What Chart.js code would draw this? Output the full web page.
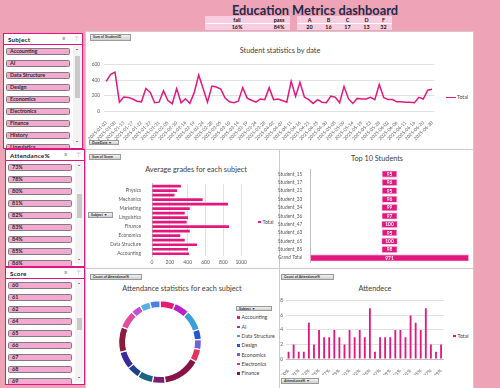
<!DOCTYPE html>
<html><head><meta charset="utf-8">
<script src="https://cdn.jsdelivr.net/npm/chart.js@4.4.1/dist/chart.umd.min.js"></script>
<style>
html,body{margin:0;padding:0;}
body{width:500px;height:388px;background:#eea3b6;position:relative;overflow:hidden;font-family:Lato,"Liberation Sans",sans-serif;}
.a{position:absolute;}
.panel{position:absolute;background:#fff;border:1px solid #d8c4cb;box-sizing:border-box;}
.btn{position:absolute;box-sizing:border-box;border:1px solid #9a9a9a;background:linear-gradient(#f2f2f2,#cfcfcf);font-size:3.6px;font-weight:bold;color:#333;line-height:4px;padding-left:2px;white-space:nowrap;overflow:hidden;}
.ctitle{position:absolute;font-size:7.3px;color:#404040;white-space:nowrap;transform:translateX(-50%);}
.slicer{position:absolute;background:#fff;border:1px solid #e0157f;box-sizing:border-box;}
.shead{position:absolute;left:4px;font-size:6.3px;font-weight:bold;color:#222;letter-spacing:0.2px;}
.sline{position:absolute;left:0;right:0;height:1px;background:#e0157f;}
.item{position:absolute;left:2px;width:64px;height:7.5px;box-sizing:border-box;background:#f5a9d1;border:1px solid #7d7d7d;border-radius:1.5px;font-size:5.4px;font-weight:bold;color:#2a2a2a;line-height:5.2px;padding-left:3px;white-space:nowrap;overflow:hidden;}
.sb{position:absolute;right:1px;width:8px;background:#f3f3f3;}
.thumb{position:absolute;left:1.5px;width:5px;background:#c9c9c9;}
.arr{position:absolute;left:0;width:8px;text-align:center;font-size:6px;font-weight:bold;color:#333;line-height:6px;}
.icon{position:absolute;font-size:6px;color:#777;}
.leg{position:absolute;font-size:5.2px;color:#404040;white-space:nowrap;line-height:6px;}
.sq{display:inline-block;width:2.5px;height:2.5px;margin-right:2px;vertical-align:middle;position:relative;top:-0.5px;}
.tbl{position:absolute;background:#f9cde0;}
.cell{position:absolute;font-size:5.4px;font-weight:bold;color:#111;transform:translateX(-50%);line-height:6px;}
</style></head>
<body>
<div class="a" style="left:0;top:1.5px;width:630px;text-align:center;font-size:12.8px;font-weight:bold;color:#1c2b4a;">Education Metrics dashboard</div>

<div class="tbl" style="left:205px;top:16px;width:85px;height:14px;"></div>
<div class="a" style="left:205px;top:22.5px;width:85px;height:0.8px;background:#fff;"></div>
<div class="tbl" style="left:297px;top:16px;width:95px;height:14px;"></div>
<div class="a" style="left:297px;top:22.5px;width:95px;height:0.8px;background:#fff;"></div>
<div id="tables"></div>

<!-- panels -->
<div class="panel" style="left:85px;top:31px;width:389px;height:119px;"></div>
<div class="panel" style="left:85px;top:149px;width:195px;height:120px;"></div>
<div class="panel" style="left:279px;top:149px;width:195px;height:120px;"></div>
<div class="panel" style="left:85px;top:268px;width:195px;height:121px;"></div>
<div class="panel" style="left:279px;top:268px;width:195px;height:121px;"></div>

<div class="btn" style="left:90px;top:34px;width:41px;height:6.5px;">Sum of StudentID</div>
<div class="btn" style="left:89px;top:140px;width:30px;height:5px;">DateDate &#9660;</div>
<div class="btn" style="left:89px;top:154px;width:32px;height:6px;">Sum of Score</div>
<div class="btn" style="left:88px;top:211.5px;width:25px;height:6px;">Subject &#9660;</div>
<div class="btn" style="left:90px;top:274px;width:52px;height:6px;">Count of Attendance%</div>
<div class="btn" style="left:236px;top:305.5px;width:36px;height:5.5px;">Subject &#9660;</div>
<div class="btn" style="left:281px;top:273.5px;width:53px;height:6px;">Count of Attendance%</div>
<div class="btn" style="left:281px;top:378px;width:38px;height:5.5px;">Attendance% &#9660;</div>

<div class="ctitle" style="left:280px;top:46px;">Student statistics by date</div>
<div class="ctitle" style="left:196px;top:165px;">Average grades for each subject</div>
<div class="ctitle" style="left:377px;top:154px;">Top 10 Students</div>
<div class="ctitle" style="left:182px;top:284px;">Attendance statistics for each subject</div>
<div class="ctitle" style="left:375px;top:284px;">Attendece</div>

<div class="leg" style="left:446px;top:94px;"><span style="display:inline-block;width:10px;height:1.4px;background:#e2187f;vertical-align:middle;margin-right:1px;"></span>Total</div>
<div class="leg" style="left:258px;top:219px;"><span class="sq" style="background:#e2187f"></span>Total</div>
<div class="leg" style="left:453px;top:333px;"><span class="sq" style="background:#e2187f"></span>Total</div>
<div id="donutLegend"></div>

<canvas id="cLine" class="a" style="left:86px;top:58px;" width="351" height="90"></canvas>
<canvas id="cAvg" class="a" style="left:98px;top:178px;" width="152" height="88"></canvas>
<canvas id="cTop" class="a" style="left:278px;top:164px;" width="194" height="104"></canvas>
<canvas id="cDonut" class="a" style="left:118px;top:300px;" width="84" height="84"></canvas>
<canvas id="cAtt" class="a" style="left:275px;top:295px;" width="171" height="80"></canvas>

<div id="slicers"></div>

<script>
// ---------- data ----------
const dates = ['2025-01-03','2025-01-05','2025-01-08','2025-01-10','2025-01-13','2025-01-15','2025-01-17','2025-01-20','2025-01-22','2025-01-24','2025-01-27','2025-01-29','2025-01-31',
'2025-02-03','2025-02-05','2025-02-07','2025-02-10','2025-02-12','2025-02-14','2025-02-17','2025-02-19','2025-02-21','2025-02-24','2025-02-26','2025-02-28',
'2025-03-03','2025-03-05','2025-03-07','2025-03-10','2025-03-12','2025-03-14','2025-03-17','2025-03-19','2025-03-21','2025-03-24','2025-03-26','2025-03-28','2025-03-31',
'2025-04-02','2025-04-04','2025-04-07','2025-04-09','2025-04-11','2025-04-14','2025-04-16','2025-04-18','2025-04-21','2025-04-23','2025-04-25','2025-04-28','2025-04-30',
'2025-05-02','2025-05-05','2025-05-07','2025-05-09','2025-05-12','2025-05-14','2025-05-16','2025-05-19','2025-05-21','2025-05-23','2025-05-26','2025-05-28','2025-05-30',
'2025-06-02','2025-06-04','2025-06-06','2025-06-09','2025-06-11','2025-06-13','2025-06-16','2025-06-18','2025-06-20','2025-06-25','2025-06-30'];
const studentIdTotals = [386,477,505,115,181,177,156,127,119,292,242,107,115,263,136,95,292,107,160,99,242,468,292,115,325,312,284,168,119,107,127,304,168,140,115,156,148,304,148,156,136,115,386,189,374,181,148,99,148,115,107,193,181,107,320,160,99,164,156,156,177,148,345,177,148,148,119,119,115,115,107,177,156,271,284];

const subjects = ['Accounting','AI','Data Structure','Design','Economics','Electronics','Finance','History','Linguistics','Literature','Marketing','Mathematics','Mechanics','Networking','Physics','Statistics'];
const scoreSums = [414,403,504,367,317,424,863,388,403,367,424,852,568,252,281,324];
const attendanceCounts = [6,6,8,4,4,5,15,5,6,5,7,10,7,4,4,4];
const subjectColors = ['#e31c6f','#b723c4','#3a9fd6','#2456d4','#7162d8','#e2335f','#861547','#7a1e72','#1c6385','#1d3f8c','#3a2a9c','#8c1c3c','#e24c9b','#c150d6','#56b0e2','#4d7fe4'];

const topStudents = ['Student_15','Student_17','Student_21','Student_33','Student_34','Student_36','Student_47','Student_63','Student_65','Student_85','Grand Total'];
const topScores = [95,96,95,96,99,97,100,95,100,98,971];

const attLabels = ['100%','70%','71%','72%','73%','74%','75%','76%','77%','78%','79%','80%','81%','82%','83%','84%','85%','86%','87%','88%','89%','90%','91%','92%','93%','94%','95%','96%','97%','98%','99%'];
const attCounts = [1,2,1,1,5,2,4,3,3,4,3,2,4,3,4,3,7,1,3,3,3,4,4,3,6,5,4,7,2,1,2];

const passFailLabels = ['fail','pass'];
const passFailValues = ['16%','84%'];
const gradeLetters = ['A','B','C','D','F'];
const gradeCounts = [20,16,17,13,32];

const slicerSubject = ['Accounting','AI','Data Structure','Design','Economics','Electronics','Finance','History','Linguistics'];
const slicerAttendance = ['73%','78%','80%','81%','82%','83%','84%','85%','86%'];
const slicerScore = ['60','61','62','64','65','66','67','68','69'];

// ---------- html bits ----------
const PINK = '#e2187f';
const FONT = 'Lato, "Liberation Sans", sans-serif';
const tables = document.getElementById('tables');
const pfX = [237,279];
passFailLabels.forEach((t,i)=>{ tables.insertAdjacentHTML('beforeend',`<div class="cell" style="left:${pfX[i]}px;top:16.5px;">${t}</div><div class="cell" style="left:${pfX[i]}px;top:23.5px;">${passFailValues[i]}</div>`);});
const gX = [309.5,328.5,347.5,366.5,383.5];
gradeLetters.forEach((t,i)=>{ tables.insertAdjacentHTML('beforeend',`<div class="cell" style="left:${gX[i]}px;top:16.5px;">${t}</div><div class="cell" style="left:${gX[i]}px;top:23.5px;">${gradeCounts[i]}</div>`);});

const dl = document.getElementById('donutLegend');
for(let i=0;i<7;i++){
  dl.insertAdjacentHTML('beforeend',`<div class="leg" style="left:237px;top:${314.3+i*9.3}px;"><span class="sq" style="background:${subjectColors[i]}"></span>${subjects[i]}</div>`);
}

function slicer(name, items, left, top, height, thumbTop, thumbH){
  let h = `<div class="slicer" style="left:${left}px;top:${top}px;width:80px;height:${height}px;overflow:hidden;">`;
  h += `<div class="shead" style="top:2px;">${name}</div>`;
  h += `<div class="icon" style="left:58px;top:1px;">&#8801;</div><div class="icon" style="left:70px;top:1px;color:#aaa;">&#8868;</div>`;
  h += `<div class="sline" style="top:10px;"></div>`;
  items.forEach((t,i)=>{ h += `<div class="item" style="top:${13.5+i*12}px;">${t}</div>`; });
  h += `<div class="sb" style="top:12px;bottom:2px;"><div class="arr" style="top:2px;">&#710;</div><div class="thumb" style="top:${thumbTop}px;height:${thumbH}px;"></div><div class="arr" style="bottom:0px;">&#711;</div></div>`;
  h += `</div>`;
  return h;
}
document.getElementById('slicers').innerHTML =
  slicer('Subject', slicerSubject, 3, 33, 116, 10, 42) +
  slicer('Attendance%', slicerAttendance, 5, 149, 118, 32, 24) +
  slicer('Score', slicerScore, 5, 267, 118, 38, 12);

// ---------- charts ----------
Chart.defaults.font.family = FONT;
Chart.defaults.color = '#595959';
Chart.defaults.animation = false;
Chart.defaults.responsive = false;
Chart.defaults.devicePixelRatio = 1;
Chart.defaults.plugins.legend.display = false;
Chart.defaults.plugins.tooltip.enabled = false;

new Chart(document.getElementById('cLine'), {
  type:'line',
  data:{labels:dates, datasets:[{label:'Total', data:studentIdTotals, borderColor:PINK, borderWidth:1.5, pointRadius:0, tension:0, fill:false}]},
  options:{
    layout:{padding:{top:4,right:0,left:0,bottom:0}},
    scales:{
      x:{offset:true, grid:{display:false}, border:{display:false},
         ticks:{autoSkip:false, maxRotation:45, minRotation:45, padding:1, font:{size:4.6}, callback:(v,i)=> i%2===0 ? dates[i] : ''},
         afterFit:s=>{s.height=37;}},
      y:{min:0, max:600, ticks:{stepSize:100, padding:4, font:{size:4.8}}, grid:{color:'#d9d9d9', drawTicks:false, lineWidth:0.8}, border:{display:false},
         afterFit:s=>{s.width=18;}}
    }
  }
});

new Chart(document.getElementById('cAvg'), {
  type:'bar',
  data:{labels:subjects, datasets:[{label:'Total', data:scoreSums, backgroundColor:PINK, barPercentage:0.6, categoryPercentage:1}]},
  options:{
    indexAxis:'y',
    layout:{padding:{top:3,right:6}},
    scales:{
      x:{min:0, max:1000, ticks:{stepSize:200, font:{size:5}, padding:3, maxRotation:0, minRotation:0, callback:v=>String(v)}, grid:{color:'#d9d9d9', drawTicks:false, lineWidth:0.8}, border:{display:false}, afterFit:s=>{s.height=10;}},
      y:{reverse:true, grid:{display:false}, border:{color:'#bfbfbf'}, ticks:{autoSkip:false, font:{size:4.8}, padding:3, callback:(v,i)=> i%2===0 ? subjects[i] : ''}, afterFit:s=>{s.width=54;}}
    }
  }
});

const funnelTotal = topScores[topScores.length-1];
const labelPlugin = {
  id:'vlabels',
  afterDatasetsDraw(chart){
    const ctx = chart.ctx; const meta = chart.getDatasetMeta(0);
    ctx.save(); ctx.fillStyle='#fff'; ctx.font='bold 4.8px '+FONT; ctx.textAlign='center'; ctx.textBaseline='middle';
    meta.data.forEach((el,i)=>{ ctx.fillText(String(topScores[i]), (el.x+el.base)/2, el.y+0.3); });
    ctx.restore();
  }
};
new Chart(document.getElementById('cTop'), {
  type:'bar',
  data:{labels:topStudents, datasets:[{label:'Total', data:topScores.map(v=>[(funnelTotal-v)/2,(funnelTotal+v)/2]), backgroundColor:PINK, borderColor:'#f6c0d8', borderWidth:0.8, borderSkipped:false, barPercentage:0.85, categoryPercentage:1}]},
  options:{
    indexAxis:'y',
    layout:{padding:{top:0,right:3,bottom:0}},
    scales:{
      x:{min:0, max:funnelTotal, display:false},
      y:{grid:{display:false, drawTicks:false}, border:{color:'#bfbfbf'}, ticks:{font:{size:4.8}, padding:3, crossAlign:'far'}, afterFit:s=>{s.width=32;}}
    }
  },
  plugins:[labelPlugin]
});

new Chart(document.getElementById('cDonut'), {
  type:'doughnut',
  data:{labels:subjects, datasets:[{data:attendanceCounts, backgroundColor:subjectColors, borderColor:'#fff', borderWidth:1.2}]},
  options:{cutout:'83%', layout:{padding:0}}
});

new Chart(document.getElementById('cAtt'), {
  type:'bar',
  data:{labels:attLabels, datasets:[{label:'Total', data:attCounts, backgroundColor:PINK, barPercentage:0.36, categoryPercentage:1}]},
  options:{
    layout:{padding:{top:3,right:2}},
    scales:{
      x:{grid:{display:false}, border:{color:'#bfbfbf'}, ticks:{autoSkip:false, maxRotation:45, minRotation:45, padding:1, font:{size:4.6}, callback:(v,i)=> i%2===0 ? attLabels[i] : ''}, afterFit:s=>{s.height=16;}},
      y:{min:0, max:8, ticks:{stepSize:1, font:{size:4.8}, padding:3}, grid:{color:'#d9d9d9', drawTicks:false, lineWidth:0.8}, border:{display:false}, afterFit:s=>{s.width=11;}}
    }
  }
});
</script>
</body></html>
